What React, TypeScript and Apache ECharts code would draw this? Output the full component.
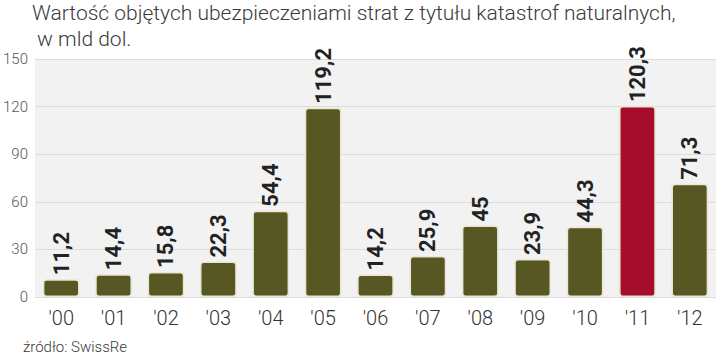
import React, { useEffect, useRef } from "react";
import * as echarts from "echarts";

const categories = ["'00", "'01", "'02", "'03", "'04", "'05", "'06", "'07", "'08", "'09", "'10", "'11", "'12"];
const values = [11.2, 14.4, 15.8, 22.3, 54.4, 119.2, 14.2, 25.9, 45, 23.9, 44.3, 120.3, 71.3];
const highlightIndex = 11;
const yTicks = { min: 0, max: 150, interval: 30 };
const titleLines = ["Wartość objętych ubezpieczeniami strat z tytułu katastrof naturalnych,", " w mld dol."];
const sourceText = "źródło: SwissRe";

export default function App() {
  const ref = useRef<HTMLDivElement>(null);
  useEffect(() => {
    if (!ref.current) return;
    const chart = echarts.init(ref.current, null, { renderer: "svg" });
    chart.setOption({
      animation: false,
      backgroundColor: "#ffffff",
      textStyle: { fontFamily: "Roboto" },
      graphic: [
        {
          type: "text",
          left: 32,
          top: 0,
          style: {
            text: titleLines.join("\n"),
            fontSize: 21,
            lineHeight: 26,
            fontWeight: 300,
            fontFamily: "Roboto",
            fill: "#3a3a3a",
          },
        },
        {
          type: "text",
          left: 23,
          top: 339,
          style: { text: sourceText, fontSize: 15, fontWeight: 300, fontFamily: "Roboto", fill: "#3a3a3a" },
        },
      ],
      grid: {
        left: 35,
        right: 4,
        top: 59,
        bottom: 63,
        show: true,
        backgroundColor: "#f2f2f2",
        borderWidth: 0,
      },
      xAxis: {
        type: "category",
        data: categories,
        axisLine: { show: false },
        axisTick: { show: false },
        axisLabel: { fontSize: 20, color: "#333", margin: 11, fontWeight: 300 },
      },
      yAxis: {
        type: "value",
        min: yTicks.min,
        max: yTicks.max,
        interval: yTicks.interval,
        axisLine: { show: false },
        axisTick: { show: false },
        axisLabel: { fontSize: 15, color: "#555", margin: 7, fontWeight: 300 },
        splitLine: { lineStyle: { color: "#dcdcdc", width: 1 } },
      },
      series: [
        {
          type: "bar",
          data: values.map((v, i) => ({
            value: v,
            itemStyle: { color: i === highlightIndex ? "#a50c2e" : "#575723" },
          })),
          barWidth: "70%",
          itemStyle: {
            borderColor: "#e9e6d2",
            borderWidth: 1.5,
            borderRadius: 3,
          },
          label: {
            show: true,
            position: "top",
            rotate: 90,
            align: "left",
            verticalAlign: "middle",
            distance: 4,
            fontSize: 22,
            fontWeight: "bold",
            color: "#222",
            fontFamily: "Roboto",
            formatter: (p: any) => String(p.value).replace(".", ","),
          },
        },
      ],
    });
    return () => chart.dispose();
  }, []);
  return <div ref={ref} style={{ width: 720, height: 360, position: "absolute", left: 0, top: 0 }} />;
}
